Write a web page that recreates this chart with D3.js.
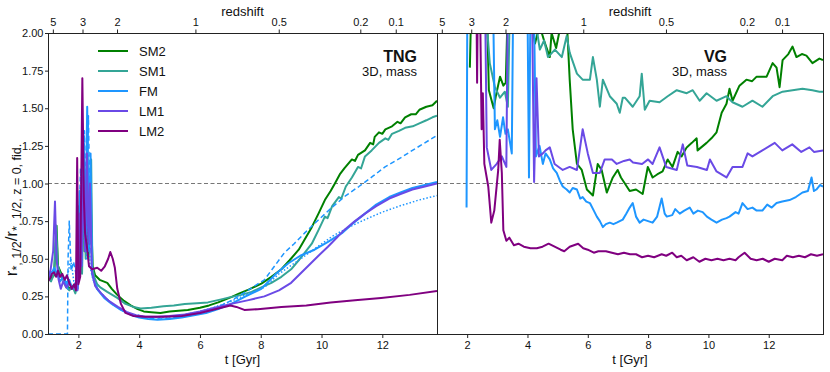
<!DOCTYPE html>
<html>
<head>
<meta charset="utf-8">
<script src="https://cdn.jsdelivr.net/npm/d3@7"></script>
<style>
  body { margin: 0; background: #fff; }
  text { font-family: "Liberation Sans", Arial, sans-serif; fill: #111; }
</style>
</head>
<body>
<script>
// ---- data: [t in Gyr, r / r_fid] ----
const tngSM2 = [[1.0,0.40],[1.1,0.37],[1.2,0.39],[1.28,0.72],[1.33,0.45],[1.42,0.41],[1.5,0.37],[1.6,0.33],[1.7,0.30],[1.8,0.31],[1.9,0.31],[1.97,0.36],[2.03,0.85],[2.08,0.45],[2.15,1.13],[2.2,0.55],[2.27,1.1],[2.33,0.5],[2.4,0.9],[2.47,0.45],[2.55,0.39],[2.7,0.36],[2.95,0.34],[3.1,0.30],[3.28,0.26],[3.5,0.22],[3.72,0.19],[3.95,0.165],[4.15,0.15],[4.4,0.145],[4.7,0.14],[5.0,0.15],[5.3,0.155],[5.6,0.16],[6.0,0.175],[6.3,0.19],[6.6,0.21],[7.03,0.245],[7.3,0.27],[7.6,0.295],[8.02,0.335],[8.35,0.38],[8.68,0.43],[8.95,0.49],[9.25,0.56],[9.45,0.63],[9.68,0.71],[9.9,0.80],[10.11,0.89],[10.3,0.95],[10.44,1.0],[10.6,1.06],[10.75,1.10],[11.0,1.16],[11.1,1.15],[11.2,1.19],[11.43,1.22],[11.6,1.27],[11.7,1.26],[11.75,1.31],[11.89,1.34],[12.0,1.33],[12.1,1.36],[12.32,1.38],[12.5,1.41],[12.6,1.40],[12.75,1.44],[12.95,1.46],[13.1,1.46],[13.22,1.49],[13.45,1.51],[13.65,1.52],[13.8,1.55]];
const tngSM1 = [[1.0,0.38],[1.1,0.35],[1.2,0.40],[1.27,0.72],[1.32,0.46],[1.4,0.40],[1.5,0.36],[1.6,0.31],[1.7,0.29],[1.8,0.32],[1.9,0.27],[2.0,0.35],[2.06,0.9],[2.12,0.4],[2.18,1.0],[2.24,0.5],[2.3,1.16],[2.36,0.7],[2.42,1.16],[2.46,0.45],[2.52,0.38],[2.62,0.33],[2.72,0.31],[2.95,0.28],[3.28,0.24],[3.55,0.2],[3.81,0.18],[4.05,0.17],[4.4,0.175],[4.8,0.185],[5.14,0.19],[5.5,0.2],[5.9,0.205],[6.26,0.21],[6.7,0.23],[7.0,0.245],[7.36,0.26],[7.7,0.28],[8.02,0.31],[8.35,0.34],[8.68,0.38],[9.0,0.43],[9.25,0.49],[9.45,0.54],[9.68,0.60],[9.9,0.69],[10.11,0.78],[10.2,0.77],[10.35,0.85],[10.57,0.91],[10.65,0.90],[10.8,0.98],[11.0,1.04],[11.2,1.11],[11.3,1.10],[11.43,1.18],[11.65,1.22],[11.89,1.27],[12.1,1.30],[12.2,1.29],[12.32,1.33],[12.55,1.35],[12.75,1.37],[13.0,1.38],[13.22,1.40],[13.45,1.42],[13.65,1.44],[13.8,1.45]];
const tngFM = [[1.0,0.42],[1.1,0.39],[1.2,0.44],[1.3,0.40],[1.4,0.35],[1.5,0.38],[1.6,0.33],[1.7,0.36],[1.8,0.30],[1.9,0.34],[1.98,0.30],[2.04,0.95],[2.1,0.5],[2.17,1.3],[2.23,0.6],[2.29,1.51],[2.34,0.55],[2.4,1.2],[2.45,0.4],[2.52,0.35],[2.65,0.29],[2.85,0.24],[3.1,0.2],[3.4,0.16],[3.7,0.13],[4.0,0.11],[4.3,0.10],[4.6,0.095],[5.0,0.10],[5.4,0.11],[5.8,0.125],[6.2,0.14],[6.6,0.165],[7.03,0.2],[7.5,0.25],[8.02,0.3],[8.5,0.4],[8.91,0.47],[9.3,0.52],[9.77,0.56],[10.2,0.61],[10.67,0.67],[11.0,0.73],[11.43,0.8],[11.8,0.86],[12.23,0.91],[12.6,0.94],[12.99,0.97],[13.4,0.99],[13.8,1.01]];
const tngFMdash = [[1.0,0],[1.64,0],[1.66,0.5],[1.7,0.75],[1.76,0.42],[1.84,0.48],[1.92,0.4],[2.0,0.55],[2.07,1.1],[2.13,0.6],[2.2,1.35],[2.27,0.7],[2.33,1.45],[2.4,0.6],[2.47,0.38],[2.6,0.3],[2.8,0.26],[3.1,0.2],[3.5,0.15],[3.9,0.12],[4.3,0.105],[4.7,0.1],[5.2,0.11],[5.7,0.13],[6.2,0.155],[6.7,0.19],[7.1,0.23],[7.5,0.28],[8.12,0.36],[8.45,0.45],[8.78,0.54],[9.1,0.6],[9.44,0.67],[9.8,0.74],[10.34,0.84],[10.8,0.92],[11.23,0.98],[11.7,1.05],[12.09,1.11],[12.6,1.17],[12.99,1.22],[13.4,1.27],[13.8,1.32]];
const tngFMdot = [[1.0,0.40],[1.2,0.42],[1.4,0.37],[1.6,0.34],[1.75,0.5],[1.85,0.35],[1.95,0.33],[2.05,0.8],[2.12,0.45],[2.2,1.2],[2.26,0.5],[2.32,1.1],[2.38,0.45],[2.48,0.36],[2.7,0.28],[3.0,0.22],[3.4,0.16],[3.8,0.13],[4.2,0.115],[4.6,0.11],[5.0,0.115],[5.5,0.13],[6.0,0.15],[6.5,0.18],[7.0,0.215],[7.5,0.26],[8.12,0.31],[8.6,0.4],[9.25,0.49],[9.8,0.57],[10.36,0.65],[10.9,0.71],[11.43,0.76],[12.0,0.81],[12.56,0.85],[13.2,0.89],[13.8,0.92]];
const tngLM1 = [[1.0,0.36],[1.08,0.42],[1.17,0.55],[1.23,0.88],[1.28,0.5],[1.35,0.36],[1.42,0.30],[1.5,0.35],[1.6,0.31],[1.7,0.34],[1.8,0.30],[1.9,0.33],[1.97,0.29],[2.05,0.8],[2.1,0.45],[2.16,1.05],[2.22,0.55],[2.28,1.2],[2.33,0.6],[2.38,1.0],[2.44,0.42],[2.55,0.32],[2.75,0.27],[3.0,0.22],[3.3,0.18],[3.6,0.145],[3.9,0.125],[4.2,0.115],[4.6,0.115],[5.0,0.12],[5.5,0.13],[6.0,0.15],[6.5,0.175],[7.03,0.2],[7.6,0.225],[8.12,0.25],[8.6,0.29],[9.0,0.34],[9.3,0.4],[9.55,0.45],[9.9,0.52],[10.21,0.58],[10.5,0.64],[10.74,0.69],[11.1,0.75],[11.43,0.8],[11.8,0.85],[12.23,0.9],[12.6,0.93],[12.99,0.96],[13.4,0.98],[13.8,1.0]];
const tngLM2 = [[1.0,0.35],[1.07,0.37],[1.13,0.40],[1.2,0.41],[1.27,0.38],[1.33,0.42],[1.4,0.38],[1.47,0.40],[1.55,0.36],[1.62,0.39],[1.7,0.34],[1.78,0.30],[1.86,0.33],[1.92,0.29],[1.96,1.17],[2.0,0.33],[2.06,0.38],[2.13,1.70],[2.18,0.9],[2.22,0.67],[2.28,0.58],[2.35,0.45],[2.45,0.43],[2.62,0.44],[2.75,0.42],[2.87,0.45],[2.98,0.50],[3.05,0.545],[3.13,0.50],[3.2,0.44],[3.28,0.3],[3.4,0.2],[3.55,0.14],[3.8,0.12],[4.2,0.115],[4.8,0.115],[5.4,0.12],[6.0,0.14],[6.5,0.165],[7.0,0.19],[7.2,0.18],[7.46,0.16],[7.9,0.165],[8.68,0.18],[9.5,0.19],[10.3,0.21],[11.1,0.225],[11.96,0.24],[12.9,0.26],[13.8,0.285]];

const vgSM2 = [[2.09,1.77],[2.15,2.3],[2.4,2.5],[2.65,2.2],[2.72,1.62],[2.88,1.5],[2.95,1.58],[3.09,1.71],[3.2,1.65],[3.28,1.67],[3.35,2.2],[3.6,2.4],[3.9,2.3],[4.1,2.1],[4.25,1.93],[4.4,2.05],[4.55,1.95],[4.74,1.84],[4.8,2.0],[4.95,1.9],[5.1,2.05],[5.3,2.1],[5.4,1.69],[5.5,1.36],[5.64,1.13],[5.8,1.09],[5.97,0.96],[6.17,0.92],[6.33,1.13],[6.46,1.09],[6.63,0.94],[6.83,1.04],[6.99,1.09],[7.1,1.04],[7.23,1.0],[7.39,0.95],[7.6,0.96],[7.82,0.93],[7.99,1.11],[8.15,1.04],[8.3,1.06],[8.48,1.08],[8.65,1.16],[8.81,1.11],[8.98,1.21],[9.11,1.18],[9.28,1.24],[9.45,1.27],[9.61,1.30],[9.64,1.22],[9.94,1.27],[10.1,1.30],[10.27,1.34],[10.44,1.47],[10.6,1.53],[10.7,1.63],[10.8,1.55],[11.03,1.65],[11.26,1.69],[11.45,1.68],[11.6,1.71],[11.93,1.71],[12.13,1.80],[12.26,1.77],[12.36,1.64],[12.46,1.82],[12.65,1.86],[12.79,1.91],[12.92,1.84],[13.1,1.86],[13.25,1.85],[13.45,1.80],[13.68,1.83],[13.8,1.82]];
const vgSM1 = [[2.4,2.4],[2.6,2.2],[2.75,1.8],[2.92,1.64],[3.09,1.57],[3.25,1.61],[3.35,1.51],[3.42,2.2],[3.7,2.4],[4.0,2.3],[4.25,2.1],[4.41,1.89],[4.55,1.95],[4.68,1.84],[4.91,1.89],[5.14,1.84],[5.3,1.98],[5.4,1.87],[5.64,1.73],[5.83,1.69],[6.07,1.69],[6.17,1.84],[6.3,1.69],[6.4,1.51],[6.5,1.69],[6.73,1.58],[6.96,1.53],[7.06,1.47],[7.16,1.57],[7.23,1.57],[7.49,1.51],[7.72,1.58],[7.79,1.73],[7.89,1.49],[8.05,1.55],[8.38,1.54],[8.65,1.58],[8.95,1.62],[9.28,1.60],[9.48,1.62],[9.71,1.55],[9.94,1.60],[10.27,1.55],[10.6,1.58],[10.8,1.54],[11.13,1.51],[11.46,1.55],[11.79,1.51],[12.13,1.58],[12.46,1.61],[12.79,1.62],[13.12,1.63],[13.45,1.62],[13.68,1.61],[13.8,1.61]];
const vgFM = [[1.98,0.84],[2.01,2.4],[2.3,2.5],[2.6,2.3],[2.86,2.2],[2.92,1.36],[3.0,1.42],[3.09,1.31],[3.19,1.44],[3.27,1.33],[3.35,1.36],[3.48,1.2],[3.53,2.3],[3.8,2.4],[4.0,2.2],[4.05,1.04],[4.1,2.2],[4.22,2.1],[4.28,1.18],[4.4,1.25],[4.51,1.13],[4.6,1.2],[4.74,1.16],[4.85,1.1],[4.97,1.07],[5.07,1.02],[5.17,0.98],[5.3,0.96],[5.4,0.94],[5.5,0.97],[5.64,0.96],[5.75,0.9],[5.83,0.91],[5.95,0.88],[6.07,0.87],[6.2,0.82],[6.3,0.78],[6.4,0.75],[6.5,0.71],[6.6,0.73],[6.73,0.74],[6.85,0.73],[6.96,0.74],[7.06,0.75],[7.16,0.76],[7.28,0.8],[7.39,0.84],[7.49,0.87],[7.6,0.78],[7.72,0.74],[7.85,0.76],[8.0,0.75],[8.15,0.74],[8.3,0.78],[8.45,0.9],[8.55,0.8],[8.62,0.78],[8.8,0.79],[8.9,0.83],[9.05,0.8],[9.2,0.82],[9.38,0.84],[9.5,0.8],[9.65,0.82],[9.81,0.81],[9.95,0.78],[10.1,0.76],[10.27,0.74],[10.45,0.76],[10.6,0.77],[10.7,0.78],[10.9,0.81],[11.0,0.8],[11.13,0.87],[11.3,0.83],[11.46,0.84],[11.6,0.82],[11.79,0.82],[11.95,0.86],[12.1,0.84],[12.26,0.87],[12.45,0.88],[12.69,0.89],[12.9,0.91],[13.12,0.94],[13.3,0.95],[13.42,1.04],[13.5,0.95],[13.58,0.96],[13.7,0.99],[13.8,0.98]];
const vgLM1 = [[2.5,2.4],[2.59,2.3],[2.65,1.24],[2.8,1.09],[2.98,1.13],[3.15,1.18],[3.3,1.11],[3.35,2.3],[3.6,2.5],[3.9,2.4],[4.15,2.2],[4.22,1.01],[4.3,1.7],[4.38,1.18],[4.51,1.2],[4.6,1.22],[4.74,1.24],[4.9,1.13],[5.17,1.09],[5.4,1.11],[5.64,1.09],[5.83,1.36],[6.0,1.2],[6.17,1.07],[6.4,1.07],[6.56,1.16],[6.8,1.16],[6.96,1.13],[7.2,1.15],[7.39,1.16],[7.5,1.14],[7.8,1.13],[8.0,1.16],[8.15,1.13],[8.38,1.24],[8.6,1.11],[8.95,1.09],[9.15,1.26],[9.3,1.12],[9.62,1.11],[9.95,1.09],[10.05,1.16],[10.27,1.08],[10.6,1.04],[10.8,1.11],[11.13,1.11],[11.3,1.2],[11.46,1.18],[11.79,1.22],[12.2,1.27],[12.45,1.22],[12.78,1.26],[13.08,1.21],[13.35,1.24],[13.5,1.21],[13.8,1.22]];
const vgLM2 = [[2.3,2.4],[2.33,1.67],[2.36,2.4],[2.42,2.3],[2.48,1.36],[2.52,1.6],[2.57,1.13],[2.7,0.98],[2.8,0.74],[2.9,0.82],[3.03,1.09],[3.08,1.29],[3.15,1.07],[3.2,0.69],[3.3,0.62],[3.4,0.64],[3.55,0.59],[3.7,0.6],[3.88,0.58],[4.1,0.57],[4.31,0.57],[4.5,0.58],[4.7,0.6],[4.9,0.58],[5.1,0.56],[5.22,0.55],[5.4,0.58],[5.68,0.6],[5.85,0.57],[6.0,0.56],[6.2,0.54],[6.35,0.55],[6.6,0.55],[6.8,0.54],[7.0,0.53],[7.2,0.54],[7.4,0.53],[7.6,0.53],[7.8,0.51],[8.0,0.52],[8.2,0.51],[8.45,0.53],[8.6,0.52],[8.8,0.54],[8.95,0.51],[9.1,0.52],[9.28,0.49],[9.5,0.51],[9.7,0.48],[9.9,0.5],[10.1,0.49],[10.3,0.5],[10.5,0.49],[10.7,0.5],[10.9,0.49],[11.0,0.51],[11.2,0.54],[11.4,0.5],[11.6,0.49],[11.8,0.5],[12.0,0.48],[12.2,0.5],[12.45,0.49],[12.6,0.52],[12.8,0.51],[13.0,0.52],[13.2,0.51],[13.4,0.53],[13.6,0.52],[13.8,0.53]];

const legendNames = ["SM2", "SM1", "FM", "LM1", "LM2"];
const colors = {SM2: "#008000", SM1: "#34a596", FM: "#1e96ff", LM1: "#6a4ae6", LM2: "#800080"};
const yTicks = [0, 0.25, 0.5, 0.75, 1, 1.25, 1.5, 1.75, 2];
const tTicks = [2, 4, 6, 8, 10, 12];
const zTicks = [5, 3, 2, 1, 0.5, 0.2, 0.1];

// ---- layout ----
const W = 830, H = 372;
const plotTop = 33, plotBottom = 334;
const panels = [
  {name: "TNG", x0: 48, x1: 437, labelX: 417, series: [
    {d: tngSM2, c: "SM2"}, {d: tngSM1, c: "SM1"},
    {d: tngFMdash, c: "FM", dash: "5,3", w: 1.5}, {d: tngFMdot, c: "FM", dash: "1.5,2", w: 1.5},
    {d: tngFM, c: "FM"}, {d: tngLM1, c: "LM1"}, {d: tngLM2, c: "LM2"}]},
  {name: "VG", x0: 437, x1: 823, labelX: 727, series: [
    {d: vgSM2, c: "SM2"}, {d: vgSM1, c: "SM1"}, {d: vgFM, c: "FM"},
    {d: vgLM1, c: "LM1"}, {d: vgLM2, c: "LM2"}]}
];

// cosmic time at redshift z (flat LCDM, Planck15) for the top axis ticks
function tOfZ(z) {
  const H0 = 67.74 / 977.8, Om = 0.3089, OL = 1 - Om;
  return 2 / (3 * H0 * Math.sqrt(OL)) * Math.asinh(Math.sqrt(OL / Om) * Math.pow(1 + z, -1.5));
}

const svg = d3.select("body").append("svg").attr("width", W).attr("height", H);
const y = d3.scaleLinear().domain([0, 2]).range([plotBottom, plotTop]);

panels.forEach(function (p, i) {
  const x = d3.scaleLinear().domain([1, 13.8]).range([p.x0, p.x1]);
  const g = svg.append("g");

  g.append("clipPath").attr("id", "clip" + i)
    .append("rect").attr("x", p.x0).attr("y", plotTop).attr("width", p.x1 - p.x0).attr("height", plotBottom - plotTop);

  const plot = g.append("g").attr("clip-path", "url(#clip" + i + ")");

  plot.append("line")
    .attr("x1", p.x0).attr("x2", p.x1).attr("y1", y(1)).attr("y2", y(1))
    .attr("stroke", "#777").attr("stroke-width", 1).attr("stroke-dasharray", "4,2.5");

  const line = d3.line().x(d => x(d[0])).y(d => y(d[1]));
  p.series.forEach(function (s) {
    plot.append("path")
      .attr("d", line(s.d))
      .attr("fill", "none")
      .attr("stroke", colors[s.c])
      .attr("stroke-width", s.w || 2)
      .attr("stroke-dasharray", s.dash || null)
      .attr("stroke-linejoin", "round");
  });

  // frame
  g.append("rect")
    .attr("x", p.x0 + 0.5).attr("y", plotTop + 0.5)
    .attr("width", p.x1 - p.x0).attr("height", plotBottom - plotTop)
    .attr("fill", "none").attr("stroke", "#222").attr("stroke-width", 1);

  // bottom axis
  const xa = g.append("g").attr("transform", "translate(0," + (plotBottom + 0.5) + ")")
    .call(d3.axisBottom(x).tickValues(tTicks).tickSize(3.5).tickPadding(3).tickFormat(d3.format("d")));
  xa.select(".domain").remove();
  xa.selectAll("text").style("font-size", "11px").attr("fill", "#111");
  xa.selectAll("line").attr("stroke", "#222");

  g.append("text").attr("x", (p.x0 + p.x1) / 2).attr("y", 364)
    .attr("text-anchor", "middle").style("font-size", "13px").text("t [Gyr]");

  // top redshift axis
  const zt = g.selectAll(".ztick").data(zTicks).enter().append("g")
    .attr("transform", d => "translate(" + x(tOfZ(d)) + "," + plotTop + ")");
  zt.append("line").attr("y1", 0).attr("y2", -3.5).attr("stroke", "#222");
  zt.append("text").attr("y", -7).attr("text-anchor", "middle")
    .style("font-size", "11px").text(d => d);

  g.append("text").attr("x", (p.x0 + p.x1) / 2).attr("y", 16)
    .attr("text-anchor", "middle").style("font-size", "13px").text("redshift");

  // panel label
  g.append("text").attr("x", p.labelX).attr("y", 62).attr("text-anchor", "end")
    .style("font-size", "16px").style("font-weight", "bold").text(p.name);
  g.append("text").attr("x", p.labelX).attr("y", 76).attr("text-anchor", "end")
    .style("font-size", "13px").text("3D, mass");
});

// y axis on left panel
const ya = svg.append("g").attr("transform", "translate(48.5,0)")
  .call(d3.axisLeft(y).tickValues(yTicks).tickSize(3.5).tickPadding(1.5).tickFormat(d3.format(".2f")));
ya.select(".domain").remove();
ya.selectAll("text").style("font-size", "11px").attr("fill", "#111");
ya.selectAll("line").attr("stroke", "#222");

const ylab = svg.append("text")
  .attr("transform", "translate(17,210) rotate(-90)")
  .attr("text-anchor", "middle").style("font-size", "17px");
ylab.append("tspan").text("r");
ylab.append("tspan").attr("dy", 4).style("font-size", "12.5px").text("*, 1/2");
ylab.append("tspan").attr("dy", -4).text("/r");
ylab.append("tspan").attr("dy", 4).style("font-size", "12.5px").text("*, 1/2, z = 0, fid.");

// legend
const leg = svg.append("g");
legendNames.forEach(function (n, i) {
  const ly = 51 + i * 20;
  leg.append("line").attr("x1", 98).attr("x2", 128).attr("y1", ly).attr("y2", ly)
    .attr("stroke", colors[n]).attr("stroke-width", 2);
  leg.append("text").attr("x", 139).attr("y", ly).attr("dy", "0.35em")
    .style("font-size", "13px").text(n);
});
</script>
</body>
</html>
